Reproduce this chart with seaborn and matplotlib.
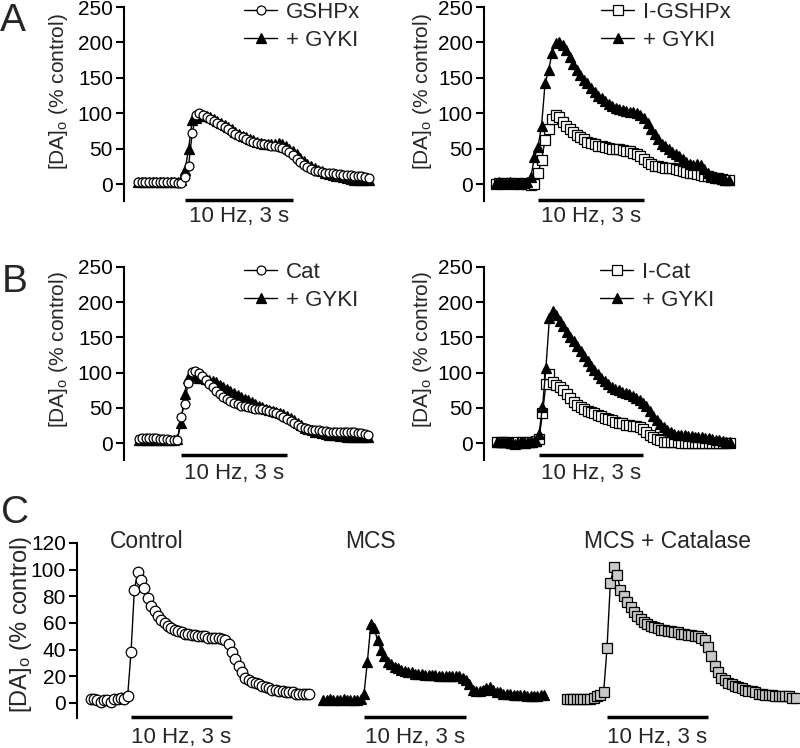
import numpy as np
import matplotlib
matplotlib.use("Agg")
import matplotlib.pyplot as plt
import seaborn as sns

sns.set_theme(style="white")
plt.rcParams["font.family"] = ["Liberation Sans", "DejaVu Sans"]
plt.rcParams["mathtext.fontset"] = "custom"
plt.rcParams["mathtext.rm"] = "Liberation Sans"
plt.rcParams["mathtext.it"] = "Liberation Sans:italic"

# ---------------- data ----------------
DT = 0.1                      # sampling interval (s)
STIM_START, STIM_DUR = 0.0, 3.0
STIM_LABEL = "10 Hz, 3 s"
YLABEL = r"[DA]$_\mathrm{o}$ (% control)"

# Panel A, left
t0_gshpx = -1.3
gshpx = [3, 3, 3, 3, 3, 3, 3, 3, 3, 3, 3, 2, 1, 10, 26, 72, 97, 100, 98, 95, 92, 89, 86, 83, 80, 77,
         74, 71, 68, 66, 63, 61, 59, 58, 57, 56, 55, 54, 53, 52, 51, 48, 45, 41, 36, 31, 27, 24, 21,
         19, 18, 17, 16, 15, 15, 14, 14, 13, 13, 13, 12, 12, 11, 10, 9]
gshpx_gyki = [3, 3, 3, 3, 3, 3, 3, 3, 3, 3, 3, 3, 5, 20, 49, 90, 93, 96, 97, 96, 94, 92, 89, 86, 83,
              80, 77, 74, 71, 68, 66, 64, 62, 60, 58, 57, 56, 56, 57, 58, 57, 54, 50, 46, 42, 37, 32,
              28, 25, 22, 20, 18, 16, 14, 13, 12, 11, 10, 8, 7, 6, 5, 5, 5, 5]
# Panel A, right
t0_igshpx = -1.2
igshpx = [0, 1, 0, 2, 1, 0, 1, 0, 1, 0, -1, 0, 15, 34, 62, 78, 92, 98, 94, 88, 82, 77, 73, 69, 66,
          63, 60, 58, 56, 54, 53, 52, 51, 50, 50, 49, 48, 47, 46, 44, 42, 39, 35, 31, 28, 26, 25, 24,
          23, 22, 22, 21, 20, 18, 17, 16, 15, 14, 13, 12, 11, 10, 9, 8, 7, 6, 5]
igshpx_gyki = [2, 3, 2, 1, 3, 2, 2, 1, 2, 3, 10, 38, 52, 82, 142, 161, 185, 199, 201, 196, 189, 180,
               170, 161, 154, 147, 142, 136, 130, 125, 121, 117, 113, 110, 108, 106, 104, 103, 102,
               101, 100, 98, 93, 86, 78, 70, 63, 57, 53, 49, 45, 42, 39, 35, 31, 28, 27, 28, 27, 21,
               15, 12, 10, 8, 7, 6, 5]
# Panel B, left
t0_cat = -1.2
cat = [6, 7, 7, 7, 7, 7, 6, 6, 6, 5, 5, 4, 37, 56, 85, 101, 102, 99, 95, 90, 84, 79, 74, 70, 66, 62,
       59, 57, 55, 53, 52, 51, 50, 49, 48, 48, 47, 46, 44, 42, 40, 37, 34, 31, 28, 25, 23, 21, 20, 19,
       18, 18, 17, 17, 16, 16, 15, 15, 15, 15, 15, 15, 14, 14, 13, 12]
cat_gyki = [5, 5, 5, 5, 5, 5, 5, 5, 5, 5, 5, 6, 28, 70, 93, 96, 95, 93, 92, 91, 90, 88, 86, 83, 80,
            77, 74, 71, 68, 66, 63, 61, 58, 56, 53, 51, 49, 47, 45, 44, 43, 41, 39, 36, 32, 28, 25,
            22, 20, 18, 16, 15, 14, 13, 12, 11, 11, 10, 10, 9, 9, 8, 8, 8, 8, 8]
# Panel B, right
t0_icat = -1.2
icat = [2, 2, 1, 1, 0, 0, 1, 1, 0, 1, 2, 3, 6, 42, 84, 98, 86, 83, 80, 75, 70, 64, 58, 54, 51, 48,
        46, 44, 42, 40, 38, 36, 34, 32, 30, 29, 28, 26, 25, 24, 24, 23, 20, 16, 12, 9, 6, 4, 2, 1, 1,
        1, 1, 0, 0, 0, 0, 0, 0, 0, 0, 0, 0, 0, 0, 0, 0, 0]
icat_gyki = [2, 1, 2, 1, 0, -1, 0, 1, 0, 1, 2, 3, 13, 51, 107, 177, 188, 182, 174, 166, 158, 151, 145,
             138, 131, 124, 117, 110, 104, 98, 93, 88, 84, 80, 77, 75, 73, 71, 69, 67, 64, 61, 57,
             52, 45, 38, 32, 27, 23, 19, 15, 13, 12, 11, 11, 10, 10, 9, 9, 8, 7, 7, 6, 5, 4, 3, 2, 1]
# Panel C
t0_c = -1.2
control = [3, 3, 2, 1, 2, 2, 1, 3, 3, 4, 3, 5, 38, 85, 98, 92, 86, 79, 73, 69, 65, 62, 60, 58, 56,
           55, 54, 53, 52, 52, 51, 51, 50, 50, 50, 49, 49, 49, 49, 48, 47, 44, 38, 33, 28, 23, 19,
           17, 16, 15, 14, 13, 12, 11, 10, 10, 9, 9, 8, 8, 8, 7, 7, 7, 7, 7]
mcs = [2, 2, 3, 2, 2, 2, 3, 2, 2, 2, 2, 3, 7, 31, 59, 56, 47, 40, 35, 31, 29, 27, 26, 25, 24, 23, 23,
       22, 22, 22, 21, 21, 21, 21, 20, 20, 20, 20, 20, 20, 20, 19, 17, 14, 10, 9, 9, 10, 11, 12, 10,
       8, 8, 7, 7, 7, 6, 6, 6, 6, 5, 5, 5, 5, 6, 6]
catalase = [3, 3, 3, 3, 3, 3, 3, 3, 4, 5, 6, 8, 41, 90, 102, 96, 85, 80, 76, 72, 68, 65, 63, 61, 59,
            58, 57, 56, 55, 55, 54, 54, 53, 53, 52, 52, 51, 51, 50, 50, 49, 47, 42, 35, 28, 23, 19,
            17, 15, 14, 13, 12, 11, 10, 9, 9, 8, 7, 7, 6, 6, 6, 5, 5, 5, 5, 5, 4, 4]

ticks_AB = [0, 50, 100, 150, 200, 250]
ticks_C = [0, 20, 40, 60, 80, 100, 120]
titles_C = ["Control", "MCS", "MCS + Catalase"]


def times(t0, vals):
    return np.round(t0 + DT * np.arange(len(vals)), 2)


# ---------------- figure ----------------
W, H = 800, 748
fig = plt.figure(figsize=(W / 100, H / 100), dpi=100)
FS = 15


def make_ax(left, right, top, bottom, x0, pps, ytop, ybot, show_y=True, ticks=None):
    ax = fig.add_axes([left / W, 1 - bottom / H, (right - left) / W, (bottom - top) / H])
    ax.set_facecolor("none")
    ax.set_xlim((left - x0) / pps, (right - x0) / pps)
    ax.set_ylim(ybot, ytop)
    for s in ["top", "right", "bottom"]:
        ax.spines[s].set_visible(False)
    ax.set_xticks([])
    if show_y:
        ax.spines["left"].set_linewidth(1.5)
        ax.spines["left"].set_color("black")
        ax.set_yticks(ticks)
        ax.tick_params(axis="y", left=True, direction="out", length=6, width=1.5,
                       labelsize=FS, pad=2, colors="black")
    else:
        ax.spines["left"].set_visible(False)
        ax.set_yticks([])
    return ax


def trace(ax, t, y, marker, ms, mfc):
    sns.lineplot(x=t, y=y, ax=ax, color="black", linewidth=1.0, marker=marker,
                 markersize=ms, markerfacecolor=mfc, markeredgecolor="black",
                 markeredgewidth=0.9, legend=False)
    return ax.get_lines()[-1]


def stim(ax, ybar, ytxt):
    ax.plot([STIM_START, STIM_START + STIM_DUR], [ybar, ybar], color="black", lw=2.5,
            solid_capstyle="butt", clip_on=False)
    ax.text(STIM_START + STIM_DUR / 2, ytxt, STIM_LABEL, ha="center", va="center",
            fontsize=16, clip_on=False)


def legend(ax, handles, labels, lx, ly):
    ax.legend(handles, labels, loc="upper left", bbox_to_anchor=(lx / W, 1 - ly / H),
              bbox_transform=fig.transFigure, frameon=False, borderpad=0, borderaxespad=0,
              handlelength=1.5, handletextpad=0.4, labelspacing=0.3, fontsize=16)


def finish(ax):
    ax.set_xlabel("")
    ax.set_ylabel("")


# Panel A left
ax = make_ax(124, 395, 7, 201, 185, 36.0, 250, -24.0, ticks=ticks_AB)
h2 = trace(ax, times(t0_gshpx, gshpx_gyki), gshpx_gyki, "^", 6.5, "black")
h1 = trace(ax, times(t0_gshpx, gshpx), gshpx, "o", 6.4, "white")
stim(ax, -22, -46)
legend(ax, [h1, h2], ["GSHPx", "+ GYKI"], 244, 2)
finish(ax)

# Panel A right
ax = make_ax(484, 795, 7, 201, 538, 35.33, 250, -24.0, ticks=ticks_AB)
h1 = trace(ax, times(t0_igshpx, igshpx), igshpx, "s", 6.5, "white")
h2 = trace(ax, times(t0_igshpx, igshpx_gyki), igshpx_gyki, "^", 6.5, "black")
stim(ax, -22, -46)
legend(ax, [h1, h2], ["I-GSHPx", "+ GYKI"], 601, 2)
finish(ax)

# Panel B left
ax = make_ax(124, 395, 267, 460, 181, 35.33, 250, -24.1, ticks=ticks_AB)
h2 = trace(ax, times(t0_cat, cat_gyki), cat_gyki, "^", 6.5, "black")
h1 = trace(ax, times(t0_cat, cat), cat, "o", 6.4, "white")
stim(ax, -17, -43)
legend(ax, [h1, h2], ["Cat", "+ GYKI"], 244, 262)
finish(ax)

# Panel B right
ax = make_ax(484, 795, 267, 460, 539, 34.67, 250, -24.1, ticks=ticks_AB)
h1 = trace(ax, times(t0_icat, icat), icat, "s", 6.5, "white")
h2 = trace(ax, times(t0_icat, icat_gyki), icat_gyki, "^", 6.5, "black")
stim(ax, -17, -43)
legend(ax, [h1, h2], ["I-Cat", "+ GYKI"], 600, 262)
finish(ax)

# Panel C
axc1 = make_ax(77, 318, 543, 718, 131, 33.67, 120, -11.25, ticks=ticks_C)
trace(axc1, times(t0_c, control), control, "o", 7.6, "white")
stim(axc1, -10.5, -25.5)
finish(axc1)

axc2 = make_ax(318, 556, 543, 718, 364, 34.0, 120, -11.25, show_y=False)
trace(axc2, times(t0_c, mcs), mcs, "^", 7, "black")
stim(axc2, -10.5, -25.5)
finish(axc2)

axc3 = make_ax(556, 800, 543, 718, 607, 33.67, 120, -11.25, show_y=False)
trace(axc3, times(t0_c, catalase), catalase, "s", 7.6, "#c8c8c8")
stim(axc3, -10.5, -25.5)
finish(axc3)

for title, xc in zip(titles_C, [147, 370, 667]):
    fig.text(xc / W, 1 - 542 / H, title, ha="center", va="center", fontsize=16.5)

# y labels
for xc, yc, fs in [(59, 92, FS), (422, 92, FS), (59, 350, FS), (422, 350, FS), (21, 624, 17)]:
    fig.text(xc / W, 1 - yc / H, YLABEL, rotation=90, ha="center", va="center", fontsize=fs)

# panel letters
for letter, x, y in [("A", 0, 3), ("B", 2, 264), ("C", 1, 495)]:
    fig.text(x / W, 1 - y / H, letter, ha="left", va="top", fontsize=28)

fig.savefig("out.png", dpi=100)
